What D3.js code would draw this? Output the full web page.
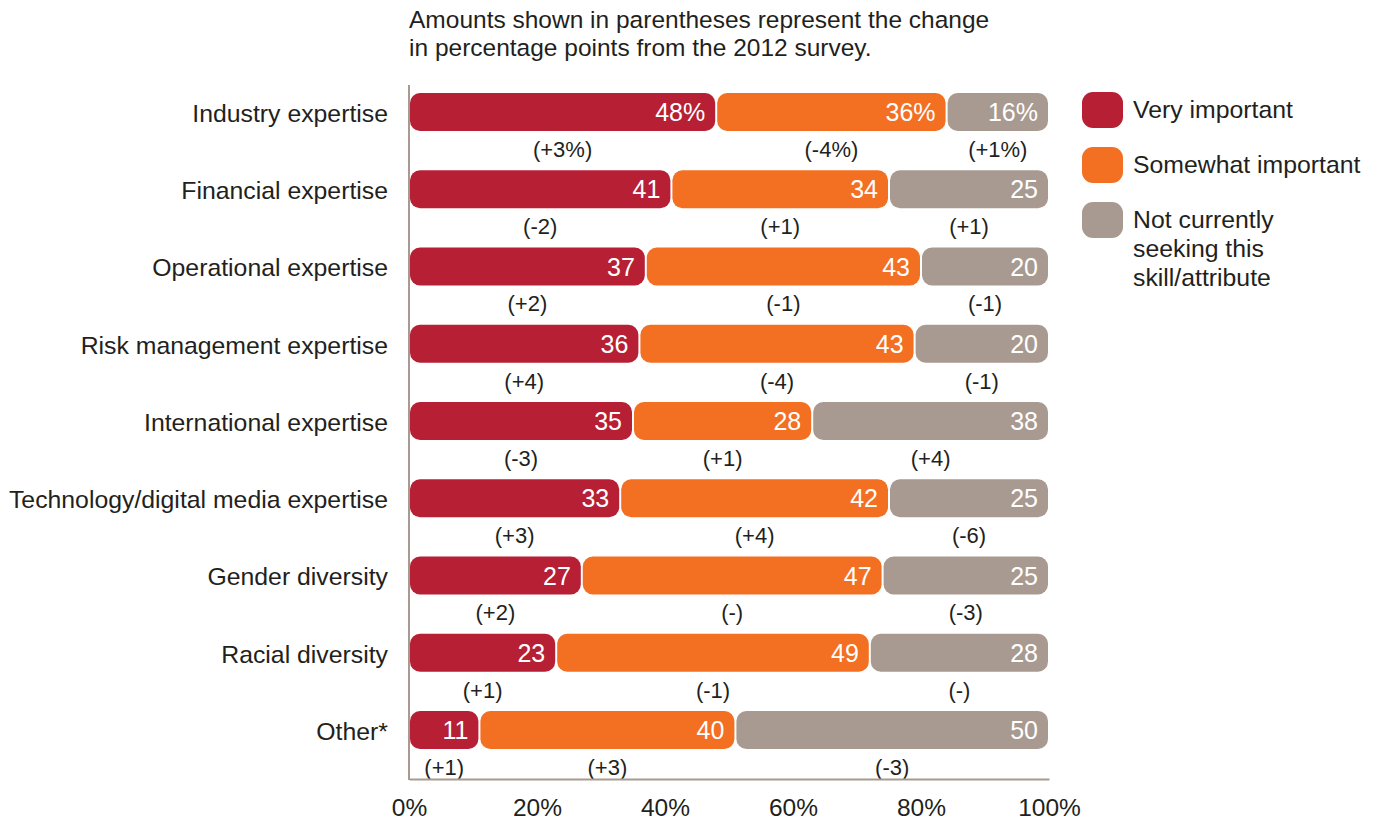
<!DOCTYPE html>
<html>
<head>
<meta charset="utf-8">
<script src="https://cdn.jsdelivr.net/npm/d3@7"></script>
<style>
  html, body { margin: 0; padding: 0; background: #fff; }
  svg { display: block; font-family: "Liberation Sans", Arial, Helvetica, sans-serif; }
</style>
</head>
<body>
<svg id="chart" width="1379" height="822"></svg>
<script>
// Board skills survey: share of respondents by importance
const categories = [
  "Industry expertise", "Financial expertise", "Operational expertise",
  "Risk management expertise", "International expertise",
  "Technology/digital media expertise", "Gender diversity",
  "Racial diversity", "Other*"
];
const seriesNames = ["Very important", "Somewhat important", "Not currently seeking this skill/attribute"];
const veryImportant     = [48, 41, 37, 36, 35, 33, 27, 23, 11];
const somewhatImportant = [36, 34, 43, 43, 28, 42, 47, 49, 40];
const notSeeking        = [16, 25, 20, 20, 38, 25, 25, 28, 50];
// change in percentage points since the 2012 survey
const changeVery     = ["+3%", "-2", "+2", "+4", "-3", "+3", "+2", "+1", "+1"];
const changeSomewhat = ["-4%", "+1", "-1", "-4", "+1", "+4", "-", "-1", "+3"];
const changeNot      = ["+1%", "+1", "-1", "-1", "+4", "-6", "-3", "-", "-3"];
const tickValues = [0, 20, 40, 60, 80, 100];

const colors = ["#B71F34", "#F36F22", "#A89A90"];
const textColor = "#231F20";
const axisColor = "#A89A90";

const svg = d3.select("#chart");

const x = d3.scaleLinear().domain([0, 100]).range([409, 1049]);
const y = d3.scalePoint().domain(categories).range([112, 730]);
const barH = 38;

const seriesValues = [veryImportant, somewhatImportant, notSeeking];
const seriesChanges = [changeVery, changeSomewhat, changeNot];

// Title note
const note = svg.append("text").attr("fill", textColor).style("font-size", "24.5px");
note.append("tspan").attr("x", 409).attr("y", 28).text("Amounts shown in parentheses represent the change");
note.append("tspan").attr("x", 409).attr("y", 56).text("in percentage points from the 2012 survey.");

// Build stacked segments per row
const segments = [];
categories.forEach((cat, i) => {
  let start = 0;
  seriesValues.forEach((vals, s) => {
    const v = vals[i];
    // last segment closes the bar at 100%
    const end = s === seriesValues.length - 1 ? 100 : start + v;
    segments.push({
      cat, s, value: v, start, end,
      label: i === 0 ? v + "%" : String(v),
      change: "(" + seriesChanges[s][i] + ")"
    });
    start += v;
  });
});

const g = svg.append("g");

g.selectAll("rect.seg").data(segments).join("rect")
  .attr("class", "seg")
  .attr("x", d => x(d.start) + 1)
  .attr("width", d => Math.max(0, x(d.end) - x(d.start) - 2))
  .attr("y", d => y(d.cat) - barH / 2)
  .attr("height", barH)
  .attr("rx", 10).attr("ry", 10)
  .attr("fill", d => colors[d.s]);

g.selectAll("text.val").data(segments).join("text")
  .attr("class", "val")
  .attr("x", d => x(d.end) - 11)
  .attr("y", d => y(d.cat))
  .attr("dy", "0.36em")
  .attr("text-anchor", "end")
  .attr("fill", "#fff")
  .style("font-size", "25px")
  .text(d => d.label);

g.selectAll("text.chg").data(segments).join("text")
  .attr("class", "chg")
  .attr("x", d => (x(d.start) + x(d.end)) / 2)
  .attr("y", d => y(d.cat) + 37)
  .attr("dy", "0.36em")
  .attr("text-anchor", "middle")
  .attr("fill", textColor)
  .style("font-size", "22px")
  .text(d => d.change);

// Category labels
const yAxis = svg.append("g")
  .attr("transform", "translate(388,0)")
  .call(d3.axisLeft(y).tickSize(0).tickPadding(0));
yAxis.select(".domain").remove();
yAxis.selectAll("text")
  .attr("fill", textColor)
  .attr("dy", "0.38em")
  .style("font-size", "24.8px")
  .style("font-family", "'Liberation Sans', Arial, Helvetica, sans-serif");

// Axis lines
svg.append("line").attr("x1", 409).attr("x2", 409).attr("y1", 85).attr("y2", 780)
  .attr("stroke", axisColor).attr("stroke-width", 2);
const xAxis = svg.append("g")
  .attr("transform", "translate(0,779)")
  .call(d3.axisBottom(x).tickValues(tickValues).tickSize(0).tickPadding(0).tickFormat(d => d + "%"));
xAxis.select(".domain").attr("stroke", axisColor).attr("stroke-width", 2);
xAxis.selectAll("text")
  .attr("y", 37)
  .attr("dy", "0")
  .attr("fill", textColor)
  .style("font-size", "24.5px")
  .style("font-family", "'Liberation Sans', Arial, Helvetica, sans-serif");

// Legend
const legendLines = [["Very important"], ["Somewhat important"], ["Not currently", "seeking this", "skill/attribute"]];
const legend = svg.append("g").attr("transform", "translate(1082,92)");
const items = legend.selectAll("g").data(seriesNames).join("g")
  .attr("transform", (d, i) => `translate(0,${i * 55})`);
items.append("rect").attr("width", 41).attr("height", 36).attr("rx", 11)
  .attr("fill", (d, i) => colors[i]);
items.append("text")
  .attr("fill", textColor)
  .style("font-size", "24.8px")
  .each(function (d, i) {
    d3.select(this).selectAll("tspan").data(legendLines[i]).join("tspan")
      .attr("x", 51)
      .attr("y", (t, j) => 26 + j * 29)
      .text(t => t);
  });
</script>
</body>
</html>
